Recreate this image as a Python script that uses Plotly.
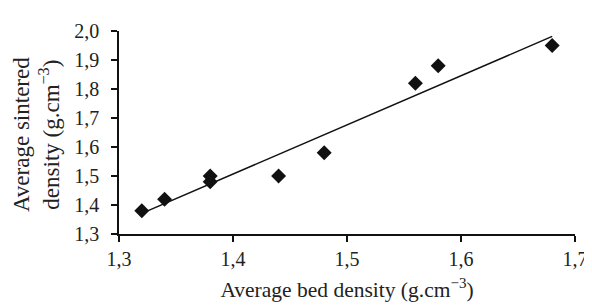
import numpy as np
import plotly.graph_objects as go

bed_density = [1.32, 1.34, 1.38, 1.38, 1.44, 1.48, 1.56, 1.58, 1.68]
sintered_density = [1.38, 1.42, 1.50, 1.48, 1.50, 1.58, 1.82, 1.88, 1.95]
x_ticks = [1.3, 1.4, 1.5, 1.6, 1.7]
x_ticklabels = ["1,3", "1,4", "1,5", "1,6", "1,7"]
y_ticks = [1.3, 1.4, 1.5, 1.6, 1.7, 1.8, 1.9, 2.0]
y_ticklabels = ["1,3", "1,4", "1,5", "1,6", "1,7", "1,8", "1,9", "2,0"]

slope, intercept = np.polyfit(bed_density, sintered_density, 1)
fit_x = [min(bed_density), max(bed_density)]
fit_y = [slope * v + intercept for v in fit_x]

font = "Liberation Serif"

fig = go.Figure()
fig.add_trace(go.Scatter(x=fit_x, y=fit_y, mode="lines",
                         line=dict(color="#111111", width=1.5), showlegend=False,
                         cliponaxis=False))
fig.add_trace(go.Scatter(x=bed_density, y=sintered_density, mode="markers",
                         marker=dict(symbol="diamond", size=11.5, color="#111111"),
                         showlegend=False, cliponaxis=False))

axis_common = dict(showgrid=False, zeroline=False, showline=True, linecolor="#111111",
                   linewidth=1.5, ticks="outside", ticklen=6, tickwidth=1.5,
                   tickcolor="#111111", tickfont=dict(family=font, size=20, color="#222222"))

fig.update_xaxes(range=[1.3, 1.7], tickvals=x_ticks, ticktext=x_ticklabels,
                 title=dict(text="Average bed density (g.cm<sup>−3</sup>)",
                            font=dict(family=font, size=21.5, color="#222222"), standoff=13),
                 **axis_common)
fig.update_yaxes(range=[1.3, 2.0], tickvals=y_ticks, ticktext=y_ticklabels,
                 ticklabelstandoff=8, **axis_common)

fig.add_annotation(text="Average sintered<br>density (g.cm<sup>−3</sup>)", textangle=-90,
                   xref="paper", yref="paper", x=0, y=0.49, xanchor="right", yanchor="middle",
                   xshift=-53, showarrow=False,
                   font=dict(family=font, size=23, color="#222222"))

fig.update_layout(width=592, height=305, margin=dict(l=111, r=15, t=21, b=79),
                  plot_bgcolor="white", paper_bgcolor="white")
fig.write_html("out.html")
